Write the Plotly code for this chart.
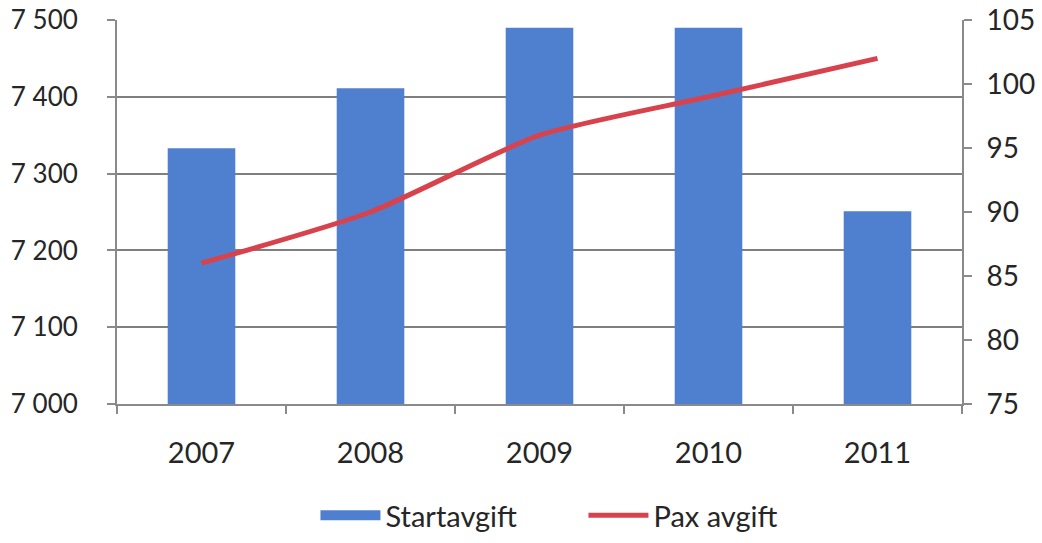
import plotly.graph_objects as go

years = ["2007", "2008", "2009", "2010", "2011"]
startavgift = [7333, 7411, 7490, 7490, 7251]
pax_avgift = [86, 90, 96, 99, 102]

FONT = "Lato, 'Open Sans', sans-serif"
AX = "#8a8a8a"

fig = go.Figure()
fig.add_trace(go.Bar(
    x=years, y=startavgift, name="Startavgift",
    marker=dict(color="#4f80d0", line=dict(width=0)),
    width=0.4, showlegend=False,
))
# legend entry mimicking the wide rectangle swatch
fig.add_trace(go.Scatter(
    x=[None], y=[None], name="Startavgift", mode="lines",
    line=dict(color="#4f80d0", width=16),
))
fig.add_trace(go.Scatter(
    x=years, y=pax_avgift, name="Pax avgift", yaxis="y2",
    mode="lines", line=dict(color="#d8424c", width=5, shape="spline", smoothing=0.6),
))

fig.update_layout(
    width=1042, height=543,
    margin=dict(l=117, r=80, t=20, b=139, autoexpand=False),
    paper_bgcolor="white", plot_bgcolor="white",
    separators=", ",
    font=dict(family=FONT, size=28, color="#262626"),
    showlegend=True,
    legend=dict(orientation="h", x=0.552, xanchor="center", y=-0.29, yanchor="middle",
                font=dict(size=29), itemwidth=60, tracegroupgap=0, entrywidth=193),
    bargap=0.6,
    xaxis=dict(
        type="category", showline=True, linecolor=AX, linewidth=2, automargin=False,
        ticks="outside", tickson="boundaries", ticklen=8, tickcolor=AX, tickwidth=2,
        showgrid=False, ticklabelstandoff=22, tickfont=dict(size=29),
    ),
    yaxis=dict(
        range=[7000, 7500], dtick=100, tick0=7000, tickformat=",d", automargin=False,
        showline=True, linecolor=AX, linewidth=2, ticklabeloverflow="allow",
        ticks="outside", ticklen=8, tickcolor=AX, tickwidth=2,
        showgrid=True, gridcolor="#7f7f7f", gridwidth=1.5, zeroline=False,
        ticklabelstandoff=24, tickfont=dict(size=26),
    ),
    yaxis2=dict(
        range=[75, 105], dtick=5, tick0=75, overlaying="y", side="right", automargin=False,
        showline=True, linecolor=AX, linewidth=2, ticklabeloverflow="allow",
        ticks="outside", ticklen=8, tickcolor=AX, tickwidth=2,
        showgrid=False, zeroline=False, ticklabelstandoff=9, tickfont=dict(size=28),
    ),
)

fig.write_html("out.html", config={"displayModeBar": False},
               post_script="document.body.style.margin='0';document.body.style.overflow='hidden';")
